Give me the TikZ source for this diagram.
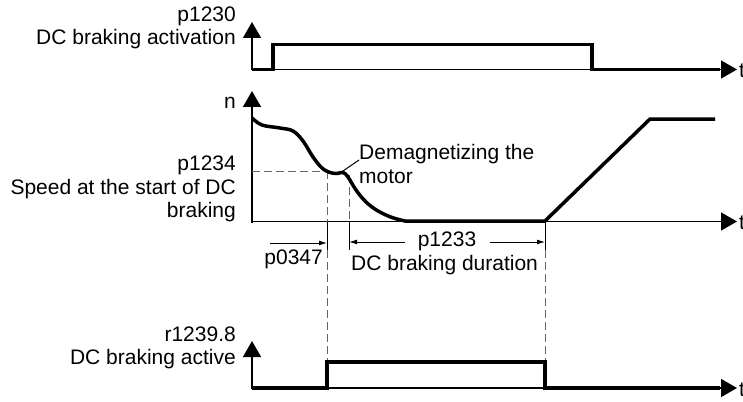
\documentclass[tikz,border=0pt]{standalone}
\usepackage{fontspec}
\setmainfont{Liberation Sans}
\usetikzlibrary{arrows.meta}

\tikzset{
  axis/.style={line width=1.5pt, -{Triangle[length=16pt,width=18pt]}},
  sig/.style={line width=3.5pt},
  guide/.style={line width=1pt, black!60, dash pattern=on 8pt off 4pt},
  dimline/.style={line width=1pt, -{Latex[length=8pt,width=5pt]}},
  label/.style={inner sep=0pt, font=\fontsize{21}{23.5}\selectfont}
}

\begin{document}
\begin{tikzpicture}[x=1pt,y=-1pt]
\useasboundingbox (0,0) rectangle (743,401);

% DC braking activation
\draw[axis] (252,70.5) -- (252,22);
\draw[axis] (252,69.5) -- (737,69.5);
\draw[sig] (252,69.5) -- (273,69.5) -- (273,44.5) -- (592,44.5) -- (592,69.5) -- (720,69.5);
\node[label, align=right, anchor=east] (act) at (236,28) {p1230\\DC braking activation};
\node[label, anchor=west] (t1) at (739,71) {t};

% speed
\draw[axis] (252,222.5) -- (252,91);
\draw[axis] (252,221.5) -- (737,221.5);
\draw[guide] (252,171) -- (327,171);
\draw[guide] (327,171) -- (327,221.5);
\draw[guide] (349,175) -- (349,221.5);
\draw[sig] plot[smooth, tension=0.6] coordinates {(252,118) (262,125) (280,128) (293,131)
  (303,141) (313,157) (322,168) (330,172.5) (337,173.5) (343,172.5) (348,177)
  (356,190) (366,202) (378,211) (392,217.5) (405,221)}
  -- (545,221) -- (650,119) -- (715,119);
\node[label, anchor=east] (n) at (236,103) {n};
\node[label, align=right, anchor=east] (spd) at (236,189) {p1234\\Speed at the start of DC\\braking};
\node[label, align=left, anchor=west] (demag) at (359,164) {Demagnetizing the\\motor};
\draw[line width=1pt] (340,173) -- (demag.west |- 0,160);
\node[label, anchor=west] (t2) at (739,223) {t};

% times
\draw[line width=1pt] (327,221.5) -- (327,250);
\draw[line width=1pt] (349,221.5) -- (349,250);
\draw[line width=1pt] (545,221.5) -- (545,250);
\coordinate (brk) at (327,243);
\coordinate (beg) at (349,242);
\coordinate (fin) at (545,242);
\draw[dimline] (270,243) -- (brk);
\node[label, anchor=east] (wait) at (323,259) {p0347};
\node[label] (dur) at (447,241) {p1233};
\draw[dimline] (405,242) -- (beg);
\draw[dimline] (490,242) -- (fin);
\node[label, anchor=west] (durtxt) at (351,265) {DC braking duration};
\draw[guide] (327,250) -- (327,362);
\draw[guide] (545,250) -- (545,362);

% DC braking active
\draw[axis] (252,389) -- (252,341);
\draw[axis] (252,388) -- (737,388);
\draw[sig] (252,388) -- (327,388) -- (327,362) -- (545,362) -- (545,388) -- (720,388);
\node[label, align=right, anchor=east] (brkact) at (236,348) {r1239.8\\DC braking active};
\node[label, anchor=west] (t3) at (739,390) {t};
\end{tikzpicture}
\end{document}
